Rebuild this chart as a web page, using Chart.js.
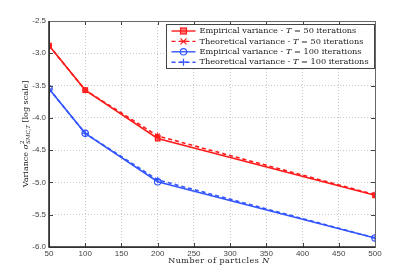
<!DOCTYPE html>
<html>
<head>
<meta charset="utf-8">
<script src="https://cdn.jsdelivr.net/npm/chart.js@4.4.0/dist/chart.umd.min.js"></script>
<style>
  html, body { margin:0; padding:0; background:#fff; }
  #wrap { width:415px; height:280px; }
</style>
</head>
<body>
<div id="wrap"><canvas id="c" width="415" height="280"></canvas></div>
<script>
// data
const particles   = [50, 100, 200, 500];
const empT50      = [-2.88, -3.57, -4.32, -5.20];
const theoT50     = [-2.88, -3.57, -4.28, -5.19];
const empT100     = [-3.55, -4.24, -4.99, -5.86];
const theoT100    = [-3.55, -4.24, -4.96, -5.86];
const seriesNames = [
  'Empirical variance - T = 50 iterations',
  'Theoretical variance - T = 50 iterations',
  'Empirical variance - T = 100 iterations',
  'Theoretical variance - T = 100 iterations'
];
const xTicks = [50, 100, 150, 200, 250, 300, 350, 400, 450, 500];
const yTicks = [-2.5, -3, -3.5, -4, -4.5, -5, -5.5, -6];

const RED = '#ff1a1a', BLUE = '#3355ff';
const serif = '"DejaVu Serif", "Liberation Serif", serif';
const sans  = '"Liberation Sans", Arial, sans-serif';

const pts = ys => particles.map((x,i) => ({x, y: ys[i]}));

// inner ticks + box + custom legend + axis titles
const decor = {
  id: 'decor',
  afterDraw(chart) {
    const {ctx, chartArea:a, scales:{x, y}} = chart;
    ctx.save();
    ctx.strokeStyle = '#444';
    ctx.lineWidth = 1;
    ctx.beginPath();
    xTicks.forEach(v => {
      const px = Math.round(x.getPixelForValue(v)) + 0.5;
      ctx.moveTo(px, a.bottom); ctx.lineTo(px, a.bottom - 4);
      ctx.moveTo(px, a.top);    ctx.lineTo(px, a.top + 4);
    });
    yTicks.forEach(v => {
      const py = Math.round(y.getPixelForValue(v)) + 0.5;
      ctx.moveTo(a.left, py);  ctx.lineTo(a.left + 4, py);
      ctx.moveTo(a.right, py); ctx.lineTo(a.right - 4, py);
    });
    ctx.stroke();
    ctx.strokeStyle = '#666';
    ctx.strokeRect(Math.round(a.left)+0.5, Math.round(a.top)+0.5,
                   Math.round(a.right - a.left), Math.round(a.bottom - a.top));
    ctx.lineWidth = 1.5;
    ctx.strokeStyle = '#222';
    ctx.beginPath();
    ctx.moveTo(a.left, a.top); ctx.lineTo(a.left, a.bottom); ctx.lineTo(a.right, a.bottom);
    ctx.stroke();

    // legend
    const lx = 166.5, ly = 24.5, lw = 208, lh = 44;
    ctx.fillStyle = '#fff';
    ctx.fillRect(lx, ly, lw, lh);
    ctx.lineWidth = 1;
    ctx.strokeStyle = '#444';
    ctx.strokeRect(lx, ly, lw, lh);
    chart.data.datasets.forEach((ds, i) => {
      const yy = ly + 6.5 + i * 10.4;
      ctx.strokeStyle = ds.borderColor;
      ctx.lineWidth = 1.4;
      ctx.setLineDash(ds.borderDash || []);
      ctx.beginPath(); ctx.moveTo(lx + 5, yy); ctx.lineTo(lx + 29, yy); ctx.stroke();
      ctx.setLineDash([]);
      const cx = lx + 17;
      ctx.lineWidth = 1.2;
      ctx.beginPath();
      if (ds.pointStyle === 'rect') {
        ctx.fillStyle = ds.backgroundColor; ctx.fillRect(cx - 3, yy - 3, 6, 6);
        ctx.strokeRect(cx - 3, yy - 3, 6, 6);
      }
      else if (ds.pointStyle === 'circle') { ctx.arc(cx, yy, 3.2, 0, Math.PI*2); ctx.stroke(); }
      else if (ds.pointStyle === 'star') {
        ctx.moveTo(cx-3,yy-3); ctx.lineTo(cx+3,yy+3); ctx.moveTo(cx+3,yy-3); ctx.lineTo(cx-3,yy+3);
        ctx.moveTo(cx-3.5,yy); ctx.lineTo(cx+3.5,yy); ctx.stroke();
      } else {
        ctx.moveTo(cx-3.5,yy); ctx.lineTo(cx+3.5,yy); ctx.moveTo(cx,yy-3.5); ctx.lineTo(cx,yy+3.5); ctx.stroke();
      }
      // label with italic T
      ctx.fillStyle = '#222';
      ctx.textBaseline = 'middle';
      const k = ds.label.indexOf(' - T ') + 3;
      const parts = [ds.label.slice(0, k), 'T', ds.label.slice(k + 1)];
      let tx = lx + 33;
      parts.forEach((p, j) => {
        ctx.font = (j === 1 ? 'italic ' : '') + '8.2px ' + serif;
        ctx.fillText(p, tx, yy);
        tx += ctx.measureText(p).width;
      });
    });

    // x axis title, italic N
    ctx.fillStyle = '#222';
    ctx.textBaseline = 'middle';
    ctx.letterSpacing = '0.5px';
    ctx.font = '8px ' + serif;
    const xa = 'Number of particles ';
    ctx.font = '8px ' + serif;
    const wa = ctx.measureText(xa).width;
    ctx.font = 'italic 8px ' + serif;
    const wn = ctx.measureText('N').width;
    let sx = 219 - (wa + wn) / 2;
    ctx.font = '8px ' + serif;
    ctx.fillText(xa, sx, 261);
    ctx.font = 'italic 8px ' + serif;
    ctx.fillText('N', sx + wa, 261);
    ctx.letterSpacing = '0px';

    // y axis title
    ctx.translate(26, (a.top + a.bottom) / 2);
    ctx.rotate(-Math.PI / 2);
    const segs = [
      ['Variance ', '8px ' + serif, 0, true],
      ['σ', 'italic 8px ' + serif, 0, true],
      ['2', '5.5px ' + serif, -3.5, false],
      ['SMC,T', 'italic 5.5px ' + serif, 2.5, true],
      [' [log scale]', '8px ' + serif, 0, true]
    ];
    let w = 0;
    segs.forEach(s => { ctx.font = s[1]; if (s[3]) w += ctx.measureText(s[0]).width; });
    let px = -w / 2;
    segs.forEach(s => {
      ctx.font = s[1];
      ctx.fillText(s[0], px, s[2]);
      if (s[3]) px += ctx.measureText(s[0]).width;
    });
    ctx.restore();
  }
};

const mk = (label, data, color, style, dash) => ({
  label, data, borderColor: color, backgroundColor: style === 'rect' ? 'rgba(255,40,40,0.6)' : 'transparent',
  borderWidth: 1.6, borderDash: dash, pointStyle: style, pointRadius: 3.2,
  pointBorderColor: color, pointBorderWidth: 1.2, tension: 0
});

new Chart(document.getElementById('c'), {
  type: 'line',
  data: {
    datasets: [
      mk(seriesNames[0], pts(empT50),  RED,  'rect',   []),
      mk(seriesNames[1], pts(theoT50), RED,  'star',   [4, 3]),
      mk(seriesNames[2], pts(empT100), BLUE, 'circle', []),
      mk(seriesNames[3], pts(theoT100),BLUE, 'cross',  [4, 3])
    ]
  },
  options: {
    responsive: false,
    animation: false,
    layout: { padding: { top: 21, right: 40, left: 0, bottom: 0 } },
    plugins: { legend: { display: false }, tooltip: { enabled: false } },
    scales: {
      x: {
        type: 'linear', min: 50, max: 500,
        afterBuildTicks: s => { s.ticks = xTicks.map(v => ({value: v})); },
        afterFit: s => { s.height = 33; },
        grid: { color: '#c8c8c8', drawTicks: false },
        border: { display: false, dash: [1, 2] },
        ticks: { color: '#444', font: { family: sans, size: 8 }, padding: 2, maxRotation: 0 }
      },
      y: {
        type: 'linear', min: -6, max: -2.5,
        afterBuildTicks: s => { s.ticks = yTicks.map(v => ({value: v})); },
        afterFit: s => { s.width = 49; },
        grid: { color: '#c8c8c8', drawTicks: false },
        border: { display: false, dash: [1, 2] },
        ticks: { color: '#444', font: { family: sans, size: 8 }, padding: 3 }
      }
    }
  },
  plugins: [decor]
});
</script>
</body>
</html>
